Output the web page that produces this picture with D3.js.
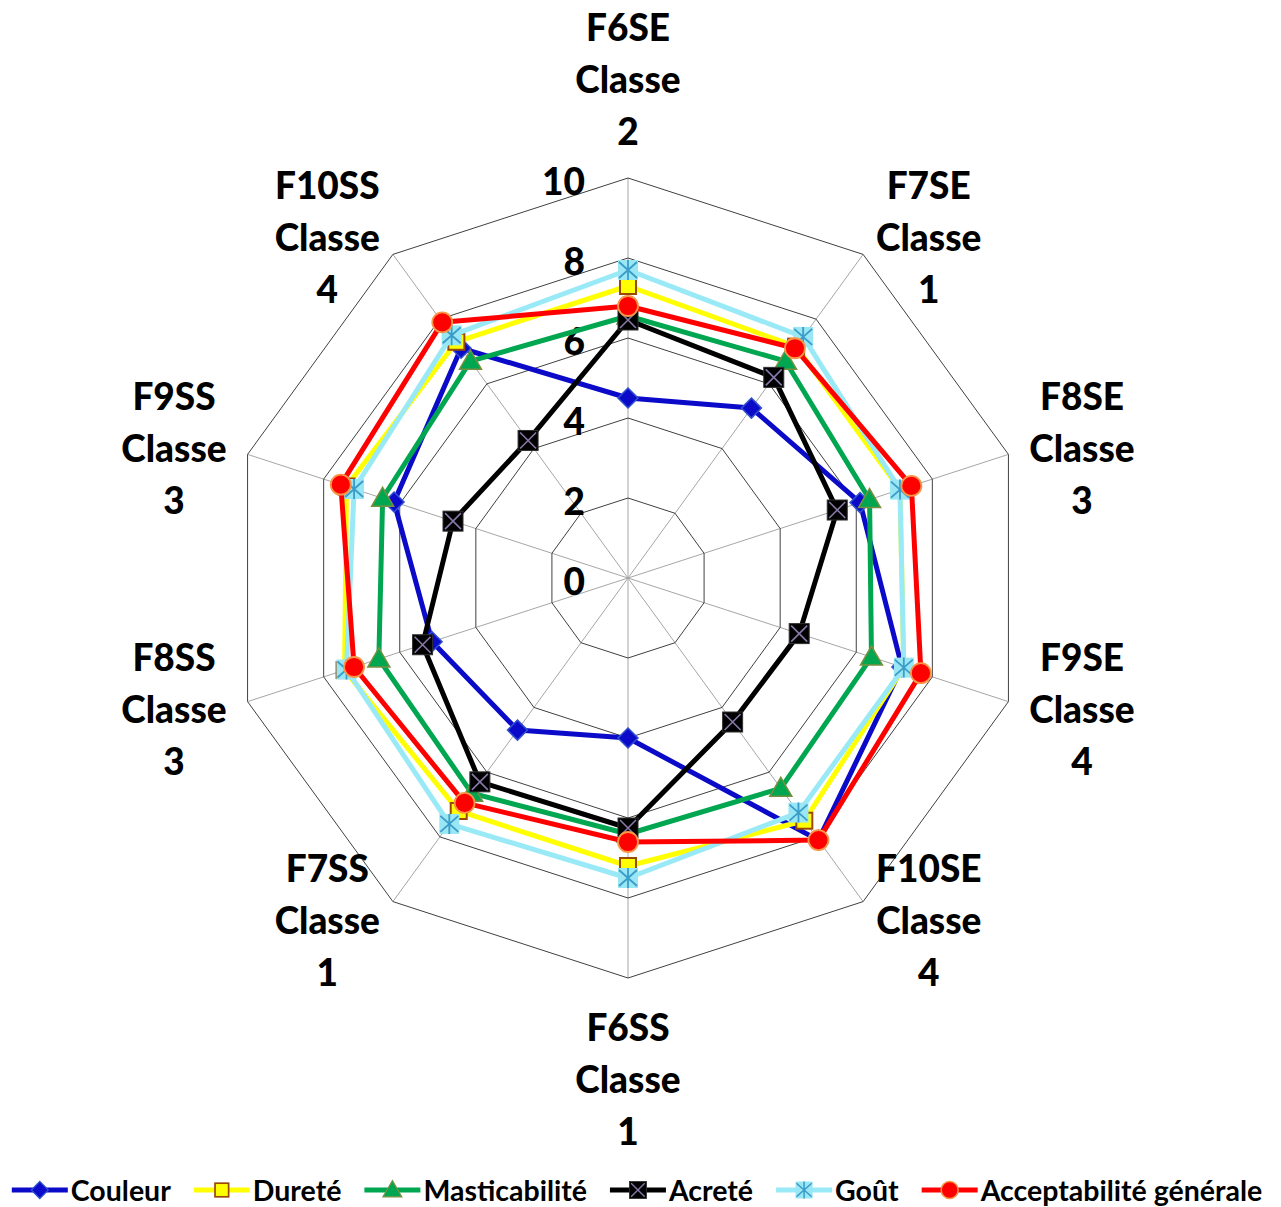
<!DOCTYPE html>
<html><head><meta charset="utf-8">
<script src="https://cdn.jsdelivr.net/npm/d3@7"></script>
<style>body{margin:0;background:#fff}svg{display:block}</style>
</head><body>
<svg id="c" width="1281" height="1207"></svg>
<script>
const categories = ["F6SE","F7SE","F8SE","F9SE","F10SE","F6SS","F7SS","F8SS","F9SS","F10SS"];
const classes = ["2","1","3","4","4","1","1","3","3","4"];
const ticks = [0,2,4,6,8,10];
const couleur = [4.5, 5.25, 6.1, 7.2, 8.1, 4.0, 4.7, 5.15, 6.15, 7.1];
const durete = [7.3, 7.15, 7.15, 7.25, 7.5, 7.2, 7.2, 7.45, 7.4, 7.3];
const masticabilite = [6.55, 6.7, 6.35, 6.4, 6.5, 6.4, 6.65, 6.55, 6.45, 6.7];
const acrete = [6.45, 6.2, 5.5, 4.5, 4.45, 6.25, 6.3, 5.4, 4.6, 4.25];
const gout = [7.7, 7.45, 7.15, 7.25, 7.25, 7.5, 7.6, 7.4, 7.2, 7.5];
const acceptabilite = [6.8, 7.1, 7.45, 7.7, 8.1, 6.6, 6.95, 7.2, 7.55, 7.9];
const seriesNames = ["Couleur","Dureté","Masticabilité","Acreté","Goût","Acceptabilité générale"];

const series = [
  {name:seriesNames[0], values:couleur, line:"#0a0ac8", marker:"diamond", fill:"#0a0ac8", stroke:"#3050d0"},
  {name:seriesNames[1], values:durete, line:"#ffff00", marker:"square", fill:"#ffff00", stroke:"#984807"},
  {name:seriesNames[2], values:masticabilite, line:"#00a650", marker:"triangle", fill:"#00a650", stroke:"#779040"},
  {name:seriesNames[3], values:acrete, line:"#000000", marker:"xsquare", fill:"#000000", stroke:"#8878a8"},
  {name:seriesNames[4], values:gout, line:"#99eaf6", marker:"asterisk", fill:"#99e6f4", stroke:"#3a9cc8"},
  {name:seriesNames[5], values:acceptabilite, line:"#ff0000", marker:"circle", fill:"#ff0000", stroke:"#f79646"}
];

const svg = d3.select("#c");
const cx = 628, cy = 578, R = 400;
const FONT = "Lato";
const r = d3.scaleLinear().domain([0,10]).range([0,R]);
const ang = d3.scaleLinear().domain([0,categories.length]).range([0, 2*Math.PI]);
const pt = (i,v) => [cx + Math.sin(ang(i))*r(v), cy - Math.cos(ang(i))*r(v)];

const g = svg.append("g");
categories.forEach((c,i)=>{
  const [x,y] = pt(i,10);
  g.append("line").attr("x1",cx).attr("y1",cy).attr("x2",x).attr("y2",y)
    .attr("stroke","#a6a6a6").attr("stroke-width",1);
});
ticks.filter(t=>t>0).forEach(t=>{
  const pts = categories.map((c,i)=>pt(i,t));
  g.append("path").attr("d", d3.line()(pts)+"Z").attr("fill","none")
    .attr("stroke", "#404040").attr("stroke-width",1);
});
ticks.forEach(t=>{
  g.append("text").attr("x", cx-43).attr("y", cy - r(t) + 2)
    .attr("text-anchor","end").attr("dominant-baseline","central")
    .attr("font-family",FONT).attr("font-weight",900).attr("font-size",37)
    .attr("fill","#000").text(t);
});
const lh = 52;
categories.forEach((c,i)=>{
  const a = ang(i);
  const ax = cx + Math.sin(a)*(R+22), ay = cy - Math.cos(a)*(R+22);
  const lines = [c, "Classe", classes[i]];
  const tg = g.append("g");
  const txt = lines.map((l,k)=>tg.append("text").attr("text-anchor","middle")
      .attr("dominant-baseline","central")
      .attr("font-family",FONT).attr("font-weight",900).attr("font-size",37)
      .attr("fill","#000").text(l));
  const w = d3.max(txt, t=>t.node().getComputedTextLength());
  const h = lh*3;
  let bx, by;
  const s = Math.sin(a), co = Math.cos(a);
  if (Math.abs(s) < 1e-6) { bx = ax; by = co>0 ? ay - h/2 : ay + h/2; }
  else { bx = s>0 ? ax + w/2 : ax - w/2; by = ay; }
  txt.forEach((t,k)=>t.attr("x",bx).attr("y", by + (k-1)*lh));
});

function drawMarker(sel, type, x, y, fill, stroke) {
  const m = sel.append("g").attr("transform",`translate(${x},${y})`);
  if (type==="diamond") {
    m.append("path").attr("d","M0,-10L10,0L0,10L-10,0Z").attr("fill",fill).attr("stroke",stroke).attr("stroke-width",1.5);
  } else if (type==="square") {
    m.append("rect").attr("x",-8).attr("y",-8).attr("width",16).attr("height",16).attr("fill",fill).attr("stroke",stroke).attr("stroke-width",2);
  } else if (type==="triangle") {
    m.append("path").attr("d","M0,-11L11,8L-11,8Z").attr("fill",fill).attr("stroke",stroke).attr("stroke-width",1.5);
  } else if (type==="xsquare") {
    m.append("rect").attr("x",-10).attr("y",-10).attr("width",20).attr("height",20).attr("fill",fill).attr("stroke","#303030").attr("stroke-width",1);
    m.append("path").attr("d","M-8,-8L8,8M-8,8L8,-8").attr("stroke",stroke).attr("stroke-width",1.6);
  } else if (type==="asterisk") {
    m.append("rect").attr("x",-10).attr("y",-10).attr("width",20).attr("height",20).attr("fill",fill);
    m.append("path").attr("d","M0,-10L0,10M-9,-8L9,8M-9,8L9,-8").attr("stroke",stroke).attr("stroke-width",1.8);
  } else if (type==="circle") {
    m.append("circle").attr("r",10).attr("fill",fill).attr("stroke",stroke).attr("stroke-width",1.8);
  }
}

const lineGen = d3.line();
series.forEach(s=>{
  const pts = s.values.map((v,i)=>pt(i,v));
  g.append("path").attr("d", lineGen(pts)+"Z").attr("fill","none")
    .attr("stroke", s.line).attr("stroke-width",5).attr("stroke-linejoin","round");
  pts.forEach(p=>drawMarker(g, s.marker, p[0], p[1], s.fill, s.stroke));
});

const lg = svg.append("g");
let x = 0;
const gap = 23;
series.forEach(s=>{
  const it = lg.append("g").attr("transform",`translate(${x},0)`);
  it.append("line").attr("x1",0).attr("x2",56).attr("y1",0).attr("y2",0).attr("stroke",s.line).attr("stroke-width",5);
  const mg = it.append("g");
  drawMarker(mg, s.marker, 28, 0, s.fill, s.stroke);
  mg.attr("transform","translate(28,0) scale(0.85) translate(-28,0)");
  const t = it.append("text").attr("x",59).attr("y",0).attr("dominant-baseline","central")
    .attr("font-family",FONT).attr("font-weight","bold").attr("font-size",28.5).attr("fill","#000").text(s.name);
  x += 59 + t.node().getComputedTextLength() + gap;
});
const total = x - gap;
lg.attr("transform",`translate(${637 - total/2},1190)`);
</script>
</body></html>
